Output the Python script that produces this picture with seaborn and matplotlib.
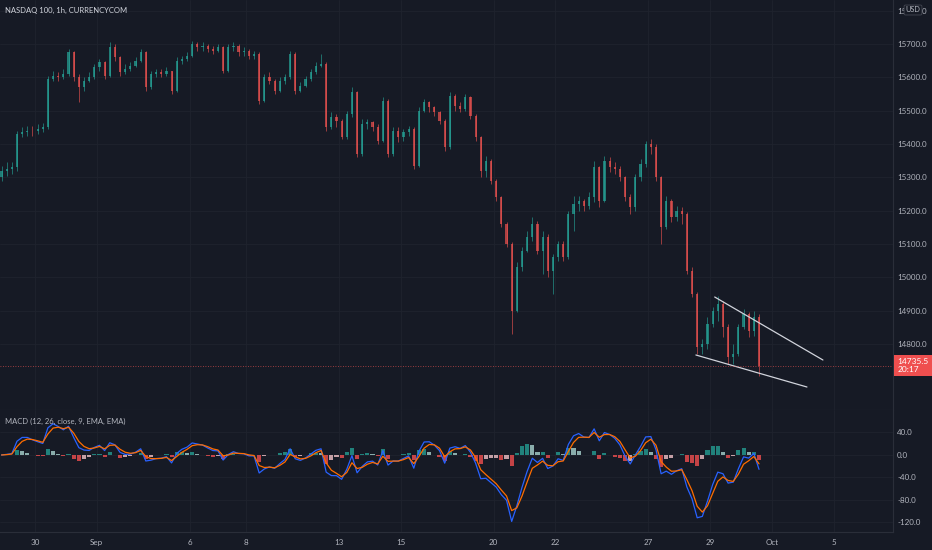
import numpy as np
import pandas as pd
import seaborn as sns
import matplotlib.pyplot as plt

# 4-hour-ish candles (6 per trading day)
first_open = 15300
closes = [15320, 15325, 15330, 15430, 15435, 15440, 15438, 15445, 15450, 15595,
          15605, 15600, 15610, 15675, 15600, 15570, 15590, 15600, 15630, 15645,
          15605, 15690, 15660, 15615, 15625, 15635, 15650, 15675, 15570, 15610,
          15615, 15610, 15618, 15560, 15650, 15655, 15665, 15700, 15690, 15695,
          15685, 15680, 15690, 15620, 15690, 15695, 15675, 15680, 15665, 15670,
          15530, 15600, 15590, 15560, 15590, 15600, 15670, 15560, 15575, 15595,
          15615, 15635, 15640, 15450, 15480, 15470, 15420, 15490, 15555, 15370,
          15460, 15465, 15450, 15410, 15530, 15370, 15440, 15420, 15435, 15445,
          15335, 15500, 15525, 15510, 15495, 15470, 15390, 15545, 15515, 15505,
          15540, 15485, 15420, 15320, 15350, 15290, 15240, 15160, 15100, 14900,
          15030, 15080, 15120, 15160, 15080, 15120, 15020, 15060, 15100, 15060,
          15190, 15220, 15230, 15215, 15240, 15330, 15230, 15350, 15330, 15325,
          15300, 15240, 15210, 15300, 15340, 15400, 15390, 15300, 15150, 15230,
          15180, 15200, 15190, 15020, 14950, 14790, 14800, 14860, 14900, 14920,
          14850, 14760, 14770, 14850, 14890, 14840, 14880, 14735.5]
highs = [15335, 15345, 15345, 15440, 15450, 15455, 15455, 15460, 15462, 15605,
         15620, 15615, 15625, 15685, 15680, 15610, 15600, 15615, 15640, 15655,
         15650, 15705, 15700, 15665, 15640, 15645, 15660, 15685, 15680, 15620,
         15625, 15625, 15630, 15620, 15660, 15665, 15675, 15710, 15705, 15705,
         15700, 15695, 15700, 15695, 15700, 15705, 15700, 15690, 15685, 15680,
         15675, 15610, 15615, 15595, 15600, 15610, 15680, 15675, 15585, 15605,
         15625, 15645, 15670, 15645, 15495, 15490, 15475, 15500, 15570, 15560,
         15475, 15475, 15470, 15460, 15540, 15535, 15450, 15450, 15445, 15455,
         15450, 15510, 15535, 15530, 15515, 15500, 15475, 15555, 15550, 15525,
         15550, 15545, 15490, 15425, 15365, 15355, 15295, 15245, 15165, 15105,
         15045, 15090, 15140, 15180, 15170, 15140, 15130, 15070, 15110, 15110,
         15200, 15245, 15245, 15235, 15255, 15350, 15335, 15365, 15360, 15345,
         15335, 15305, 15250, 15310, 15355, 15410, 15415, 15400, 15305, 15245,
         15235, 15215, 15210, 15195, 15030, 14955, 14815, 14880, 14910, 14945,
         14930, 14860, 14800, 14860, 14905, 14895, 14900, 14890]
lows = [15290, 15305, 15310, 15320, 15420, 15425, 15425, 15430, 15435, 15445,
        15590, 15590, 15595, 15605, 15590, 15525, 15560, 15585, 15595, 15620,
        15595, 15600, 15650, 15605, 15610, 15620, 15630, 15645, 15560, 15565,
        15600, 15600, 15605, 15550, 15555, 15640, 15650, 15660, 15680, 15680,
        15675, 15670, 15675, 15612, 15615, 15680, 15665, 15665, 15655, 15655,
        15520, 15525, 15580, 15550, 15555, 15580, 15595, 15550, 15555, 15570,
        15590, 15610, 15630, 15440, 15445, 15450, 15415, 15415, 15480, 15360,
        15365, 15445, 15440, 15400, 15405, 15360, 15365, 15405, 15410, 15425,
        15325, 15330, 15495, 15495, 15485, 15460, 15380, 15385, 15500, 15495,
        15500, 15475, 15410, 15300, 15300, 15280, 15230, 15150, 15090, 14830,
        14895, 15020, 15075, 15110, 15070, 15010, 15000, 14950, 15050, 15050,
        15055, 15140, 15200, 15200, 15205, 15225, 15210, 15225, 15315, 15310,
        15290, 15230, 15190, 15200, 15290, 15330, 15370, 15290, 15100, 15145,
        15165, 15170, 15160, 15010, 14940, 14770, 14770, 14785, 14850, 14870,
        14820, 14740, 14740, 14765, 14845, 14820, 14825, 14705]

# trading-day ticks (index of the day's first candle minus half a bar)
tick_pos = [6.5, 18.5, 36.5, 47.5, 65.5, 77.5, 95.5, 107.5, 125.5, 137.5, 149.5, 161.5]
tick_labels = ["30", "Sep", "6", "8", "13", "15", "20", "22", "27", "29", "Oct", "5"]
price_ticks = [14800, 14900, 15000, 15100, 15200, 15300, 15400, 15500, 15600, 15700, 15800]
macd_ticks = [-120, -80, -40, 0, 40]

# falling wedge drawn on the chart (bar index, price)
wedge_upper_x = [138.4, 159.4]
wedge_upper_y = [14941, 14752]
wedge_lower_x = [134.75, 156.3]
wedge_lower_y = [14767, 14671]

df = pd.DataFrame({"close": closes, "high": highs, "low": lows})
df["open"] = [first_open] + closes[:-1]
df["x"] = np.arange(len(df))

# MACD(12, 26, 9) on hourly data, rescaled to ~3.83h bars
hpb = 23 / 6
def bar_alpha(span):
    return 1 - (1 - 2 / (span + 1)) ** hpb

ema_fast = df["close"].ewm(alpha=bar_alpha(12), adjust=False).mean()
ema_slow = df["close"].ewm(alpha=bar_alpha(26), adjust=False).mean()
df["macd"] = ema_fast - ema_slow
df["signal"] = df["macd"].ewm(alpha=bar_alpha(9), adjust=False).mean()
df["histo"] = df["macd"] - df["signal"]

bg = "#161a25"
txt = "#b2b5be"
grid = "#1f232e"
up_col = "#26a69a"
dn_col = "#ef5350"

sns.set_theme(style="dark", rc={"axes.facecolor": bg, "figure.facecolor": bg})
plt.rcParams["font.family"] = ["Lato", "DejaVu Sans"]

fig = plt.figure(figsize=(9.32, 5.5), dpi=100)
ax = fig.add_axes([0, 140 / 550, 893 / 932, 410 / 550])
ax2 = fig.add_axes([0, 18 / 550, 893 / 932, 122 / 550], sharex=ax)

# candles
is_up = df["close"] >= df["open"]
cols = np.where(is_up, up_col, dn_col)
ax.vlines(df["x"], df["low"], df["high"], colors=cols, lw=0.6, alpha=0.7)
body_lo = np.minimum(df["open"], df["close"])
body_h = np.maximum(np.abs(df["close"] - df["open"]), 2)
ax.bar(df["x"], body_h, bottom=body_lo, width=0.42, color=cols, alpha=0.7, linewidth=0)

# wedge lines
ax.plot(wedge_upper_x, wedge_upper_y, color="#d1d4dc", lw=0.9)
ax.plot(wedge_lower_x, wedge_lower_y, color="#d1d4dc", lw=0.9)

# last price line and label
last = closes[-1]
ax.axhline(last, color=dn_col, lw=0.6, ls=(0, (1, 2)), alpha=0.8)
ax.annotate(f"{last:.1f}\n20:17", xy=(1, last), xycoords=("axes fraction", "data"),
            xytext=(3, 0), textcoords="offset points", va="center", ha="left",
            fontsize=6, color="white", linespacing=1.1, annotation_clip=False,
            bbox=dict(boxstyle="square,pad=0.4", fc="#ef4f4f", ec="none"))

ax.set_xlim(-0.3, 173)
ax.set_ylim(14602, 15832)
ax.set_yticks(price_ticks)
ax.set_yticklabels([f"{p:.1f}" for p in price_ticks])

# MACD panel
hist_prev = df["histo"].shift(1).fillna(0)
hist_cols = np.where(df["histo"] >= 0,
                     np.where(df["histo"] >= hist_prev, "#26a69a", "#b2dfdb"),
                     np.where(df["histo"] < hist_prev, "#ff5252", "#ffcdd2"))
ax2.bar(df["x"], df["histo"], width=0.8, color=hist_cols, alpha=0.75, linewidth=0)
sns.lineplot(x=df["x"], y=df["macd"], ax=ax2, color="#2962ff", lw=0.9)
sns.lineplot(x=df["x"], y=df["signal"], ax=ax2, color="#ff6d00", lw=0.9)
ax2.set_ylim(-137, 80)
ax2.set_yticks(macd_ticks)
ax2.set_yticklabels([f"{v:.1f}" for v in macd_ticks])
ax2.set_xlabel("")
ax2.set_ylabel("")
ax2.set_xticks(tick_pos)
ax2.set_xticklabels(tick_labels)

for a in (ax, ax2):
    a.yaxis.tick_right()
    a.tick_params(axis="y", length=0, pad=3, labelsize=5.8, labelcolor=txt)
    a.tick_params(axis="x", length=0, labelsize=5.8, labelcolor=txt, pad=5)
    a.grid(True, color=grid, lw=0.6)
    for s in ("left", "top"):
        a.spines[s].set_visible(False)
    a.spines["right"].set_color("#2a2e39")
    a.spines["bottom"].set_color("#2a2e39")
    a.spines["right"].set_linewidth(0.8)
    a.spines["bottom"].set_linewidth(0.8)
    for lab in a.get_yticklabels():
        lab.set_horizontalalignment("left")
ax.tick_params(axis="x", labelbottom=False)
ax.set_axisbelow(True)
ax2.set_axisbelow(True)

fig.text(5 / 932, 1 - 10 / 550, "NASDAQ 100, 1h, CURRENCYCOM", color="#d1d4dc",
         fontsize=5.5, va="center", ha="left")
ax2.text(5 / 893, 1 - 11 / 122, "MACD (12, 26, close, 9, EMA, EMA)",
         transform=ax2.transAxes, color=txt, fontsize=5.5, va="center", ha="left")
fig.text(913 / 932, 1 - 10 / 550, "USD", color=txt, fontsize=5.3, va="center", ha="center",
         bbox=dict(boxstyle="round,pad=0.2", fc=bg, ec="#434651", lw=0.6))

fig.savefig("out.png", dpi=100, facecolor=bg)
